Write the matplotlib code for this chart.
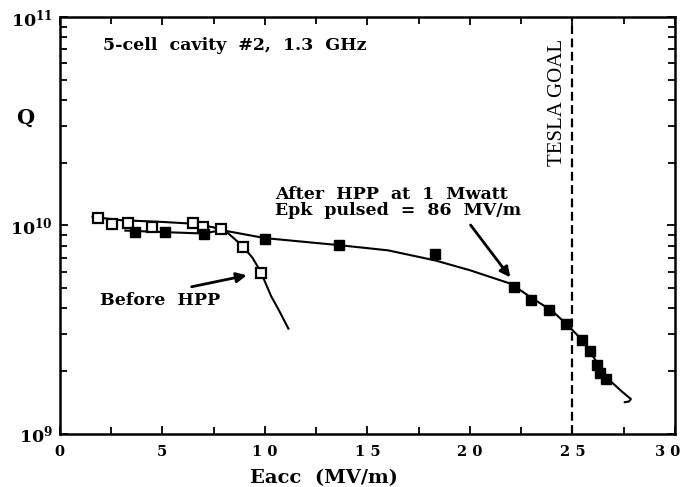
import matplotlib
matplotlib.use("Agg")
import matplotlib.pyplot as plt
import matplotlib.transforms as mtransforms
from matplotlib.ticker import MultipleLocator, LogLocator, NullFormatter

# data
before_E = [1.89, 2.54, 3.32, 4.49, 6.52, 6.98, 7.87, 8.95, 9.80]
before_Q = [1.09e10, 1.02e10, 1.03e10, 0.98e10, 1.03e10, 0.98e10, 0.96e10, 7.9e9, 5.9e9]

after_E = [3.67, 5.14, 7.06, 10.02, 13.6, 18.3, 22.16, 22.98, 23.85, 24.67,
           25.48, 25.85, 26.18, 26.34, 26.63]
after_Q = [9.3e9, 9.3e9, 9.06e9, 8.6e9, 8.04e9, 7.26e9, 5.07e9, 4.41e9, 3.94e9, 3.35e9,
           2.81e9, 2.50e9, 2.13e9, 1.96e9, 1.84e9]

# hand drawn fit curves
before_fit_E = [1.6, 3.0, 5.0, 6.5, 7.5, 8.2, 8.9, 9.4, 9.8, 10.3, 10.7, 11.15]
before_fit_Q = [1.1e10, 1.06e10, 1.04e10, 1.02e10, 9.8e9, 9.2e9, 8.0e9, 7.0e9, 6.0e9,
                4.6e9, 3.9e9, 3.2e9]

after_fit_E = [3.2, 5.0, 7.0, 7.9, 10.0, 13.6, 16.0, 18.3, 20.0, 22.0, 23.0, 24.0,
               24.8, 25.5, 26.2, 26.7, 27.4, 27.85, 27.75, 27.55]
after_fit_Q = [9.45e9, 9.3e9, 9.15e9, 9.5e9, 8.7e9, 8.05e9, 7.6e9, 6.8e9, 6.1e9,
               5.25e9, 4.5e9, 3.9e9, 3.3e9, 2.8e9, 2.2e9, 1.85e9, 1.6e9, 1.47e9,
               1.43e9, 1.42e9]

x_ticks = [0, 5, 10, 15, 20, 25, 30]
x_labels = ["0", "5", "1 0", "1 5", "2 0", "2 5", "3 0"]
tesla_goal = 25

bold = "DejaVu Serif"
plt.rcParams["font.family"] = bold
plt.rcParams["font.weight"] = "bold"
plt.rcParams["mathtext.fontset"] = "dejavuserif"

fig = plt.figure(figsize=(6.86, 4.87), dpi=100)
ax = fig.add_axes([0.087, 0.109, 0.897, 0.856])

ax.plot(before_fit_E, before_fit_Q, color="black", lw=1.5)
ax.plot(after_fit_E, after_fit_Q, color="black", lw=1.5)
ax.plot(before_E, before_Q, ls="none", marker="s", ms=7, mfc="white", mec="black", mew=1.6)
ax.plot(after_E, after_Q, ls="none", marker="s", ms=7.5, mfc="black", mec="black")

ax.axvline(tesla_goal, color="black", lw=1.6, ls=(0, (4, 2)))

ax.set_yscale("log")
ax.set_xlim(0, 30)
ax.set_ylim(1e9, 1e11)

ax.set_xticks(x_ticks)
ax.set_xticklabels(x_labels)
ax.xaxis.set_minor_locator(MultipleLocator(2.5))
ax.yaxis.set_minor_locator(LogLocator(base=10, subs=range(2, 10)))
ax.yaxis.set_minor_formatter(NullFormatter())
ax.set_yticks([1e9, 1e10, 1e11])
ax.set_yticklabels([r"$\mathbf{10^{9}}$", r"$\mathbf{10^{10}}$", r"$\mathbf{10^{11}}$"])

ax.tick_params(which="both", direction="in", top=True, right=True, width=1.3)
ax.tick_params(axis="x", which="major", length=6, labelsize=10.5, pad=8)
ax.tick_params(axis="y", which="major", length=6, labelsize=12.5, pad=5)
ax.tick_params(which="minor", length=5)
for s in ax.spines.values():
    s.set_linewidth(1.8)

# last label sits at the edge of the page, nudge it in a bit
last = ax.get_xticklabels()[-1]
last.set_transform(last.get_transform() +
                   mtransforms.ScaledTranslation(-7 / 100, 0, fig.dpi_scale_trans))

ax.set_xlabel("Eacc  (MV/m)", fontsize=14, fontweight="bold")
ax.xaxis.set_label_coords(0.43, -0.085)
fig.text(0.036, 0.757, "Q", fontsize=15, fontweight="bold", ha="center", va="center")

ax.text(2.1, 7.3e10, "5-cell  cavity  #2,  1.3  GHz", fontsize=12.5, fontweight="bold",
        va="center")
ax.text(24.25, 3.9e10, "TESLA GOAL", rotation=90, fontsize=15, fontweight="normal",
        family="Liberation Serif", ha="center", va="center")
ax.text(10.5, 1.12e10, "After  HPP  at  1  Mwatt\nEpk  pulsed  =  86  MV/m",
        fontsize=12.5, fontweight="bold", linespacing=0.95)
ax.text(1.95, 4.35e9, "Before  HPP", fontsize=12.5, fontweight="bold", va="center")

ax.annotate("", xy=(22.05, 5.5e9), xytext=(19.95, 1.03e10),
            arrowprops=dict(arrowstyle="-|>", color="black", lw=2, mutation_scale=15))
ax.annotate("", xy=(9.25, 5.8e9), xytext=(6.3, 5.05e9),
            arrowprops=dict(arrowstyle="-|>", color="black", lw=2, mutation_scale=15))

fig.savefig("out.png", dpi=100)
